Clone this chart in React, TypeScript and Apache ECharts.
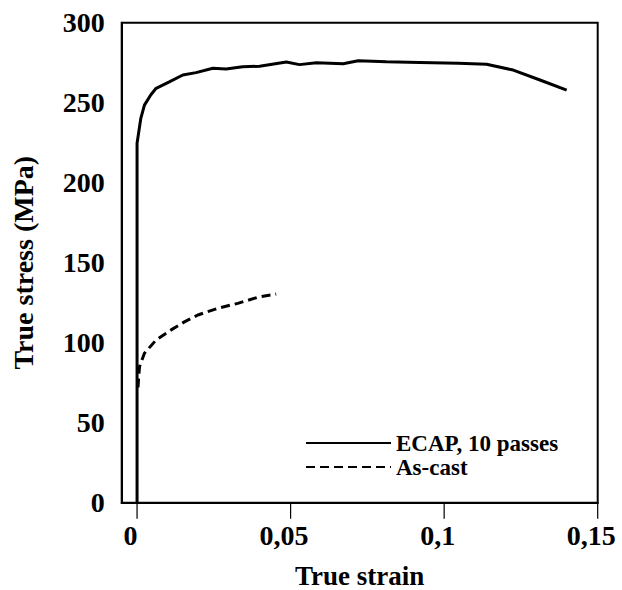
import React, { useEffect, useRef } from "react";
import * as echarts from "echarts";

const ecapStrain = [0, 0, 0.0012, 0.0024, 0.0045, 0.0062, 0.0105, 0.0149, 0.0192, 0.0247, 0.029, 0.0344, 0.0399, 0.0486, 0.0529, 0.0584, 0.0671, 0.072, 0.0812, 0.092, 0.1046, 0.1138, 0.1225, 0.1312, 0.1399];
const ecapStress = [0, 224.6, 240, 248.5, 255, 259, 263, 267.3, 268.8, 271.5, 271, 272.5, 272.8, 275.4, 273.8, 275, 274.4, 276.2, 275.6, 275.2, 274.6, 274, 270.4, 264.2, 257.8];

const castStrain = [0.0003, 0.0008, 0.0024, 0.0062, 0.0111, 0.0154, 0.0198, 0.0263, 0.0328, 0.0393, 0.0453];
const castStress = [72, 85, 93.4, 101.7, 108, 113, 117.3, 121.5, 124.6, 128.4, 130.4];

const xTicks = [0, 0.05, 0.1, 0.15];
const yTicks = [0, 50, 100, 150, 200, 250, 300];
const seriesNames = ["ECAP, 10 passes", "As-cast"];

const X_MIN = -0.005;
const X_MAX = 0.15;
const Y_MIN = 0;
const Y_MAX = 300;

const FONT = "'Liberation Serif', 'Times New Roman', serif";

export default function App() {
  const ref = useRef<HTMLDivElement>(null);
  useEffect(() => {
    document.body.style.margin = "0";
    if (!ref.current) return;
    const chart = echarts.init(ref.current, null, { renderer: "svg" });
    const zip = (xs: number[], ys: number[]) => xs.map((x, i) => [x, ys[i]]);

    // tick lengths expressed in axis units (16 px down, 14 px left)
    const gridW = 622 - 121.7 - 24.3;
    const gridH = 590 - 22.7 - 87.3;
    const xTickLen = (16 / gridH) * (Y_MAX - Y_MIN);
    const yTickLen = (14 / gridW) * (X_MAX - X_MIN);
    const xTickData: any[] = [];
    xTicks.forEach((v) => {
      xTickData.push([v, Y_MIN], [v, Y_MIN - xTickLen], [v, "-"]);
    });
    const yTickData: any[] = [];
    yTicks.forEach((v) => {
      yTickData.push([X_MIN, v], [X_MIN - yTickLen, v], ["-", v]);
    });
    const tickSeries = (name: string, data: any[]) => ({
      name,
      type: "line",
      data,
      clip: false,
      silent: true,
      connectNulls: false,
      showSymbol: false,
      symbol: "none",
      z: 10,
      lineStyle: { color: "#000", width: 1.2, type: "solid" },
      itemStyle: { color: "#000" },
    });

    chart.setOption({
      animation: false,
      backgroundColor: "#fff",
      textStyle: { fontFamily: FONT, fontWeight: "bold", color: "#000" },
      grid: {
        left: 121.7,
        right: 24.3,
        top: 22.7,
        bottom: 87.3,
        outerBoundsMode: "none",
        containLabel: false,
        show: true,
        borderColor: "#000",
        borderWidth: 2,
        backgroundColor: "transparent",
      },
      tooltip: { show: false },
      legend: {
        orient: "vertical",
        left: 300,
        top: 426.5,
        itemWidth: 85,
        itemHeight: 14,
        itemGap: 1,
        data: seriesNames,
        itemStyle: { opacity: 0 },
        textStyle: {
          fontFamily: FONT,
          fontWeight: "bold",
          fontSize: 23,
          color: "#000",
        },
      },
      xAxis: {
        type: "value",
        min: X_MIN,
        max: X_MAX,
        name: "True strain",
        nameLocation: "middle",
        nameGap: 60,
        nameTextStyle: { fontFamily: FONT, fontWeight: "bold", fontSize: 27, color: "#000" },
        axisLine: { show: true, onZero: false, lineStyle: { color: "#000", width: 2 } },
        axisTick: { show: false },
        axisLabel: {
          show: true,
          customValues: xTicks,
          margin: 19,
          fontFamily: FONT,
          fontWeight: "bold",
          fontSize: 28,
          color: "#000",
          padding: [0, 13, 0, 0],
          formatter: (v: number) => String(v).replace(".", ","),
        },
        splitLine: { show: false },
      },
      yAxis: {
        type: "value",
        min: Y_MIN,
        max: Y_MAX,
        interval: 50,
        name: "True stress (MPa)",
        nameLocation: "middle",
        nameGap: 84,
        nameTextStyle: { fontFamily: FONT, fontWeight: "bold", fontSize: 28, color: "#000" },
        axisLine: { show: true, onZero: false, lineStyle: { color: "#000", width: 2 } },
        axisTick: { show: false },
        axisLabel: {
          margin: 17,
          fontFamily: FONT,
          fontWeight: "bold",
          fontSize: 28,
          color: "#000",
        },
        splitLine: { show: false },
      },
      series: [
        {
          name: seriesNames[0],
          type: "line",
          data: zip(ecapStrain, ecapStress),
          showSymbol: false,
          symbol: "none",
          lineStyle: { color: "#000", width: 3, type: "solid" },
          itemStyle: { color: "#000" },
        },
        {
          name: seriesNames[1],
          type: "line",
          data: zip(castStrain, castStress),
          showSymbol: false,
          symbol: "none",
          lineStyle: { color: "#000", width: 3, type: [9, 5] },
          itemStyle: { color: "#000" },
        },
        tickSeries("xTickMarks", xTickData),
        tickSeries("yTickMarks", yTickData),
      ],
    });
    return () => chart.dispose();
  }, []);
  return <div ref={ref} style={{ width: 622, height: 590 }} />;
}
